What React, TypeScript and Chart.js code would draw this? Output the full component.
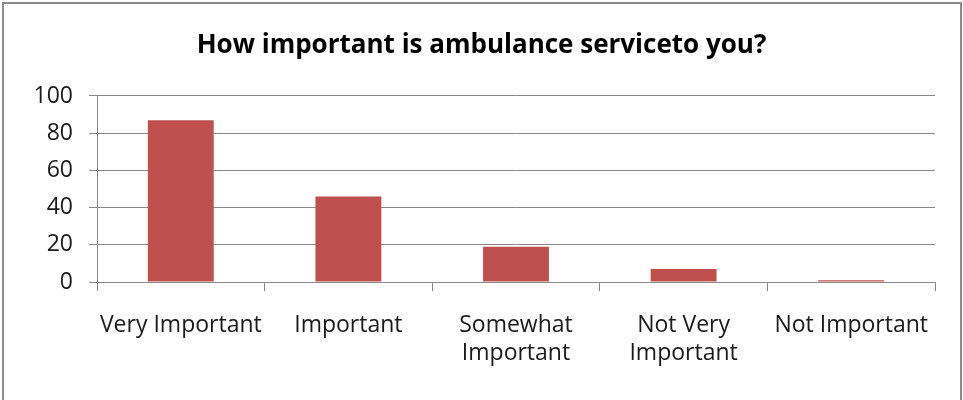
import React, { useEffect, useRef } from "react";
import { Chart, registerables } from "chart.js";

Chart.register(...registerables);

const titleText = "How important is ambulance serviceto you?";
const categories: string[][] = [
  ["Very Important"],
  ["Important"],
  ["Somewhat", "Important"],
  ["Not Very", "Important"],
  ["Not Important"],
];
const values: number[] = [87, 46, 19, 7, 1];
const yMin = 0;
const yMax = 100;
const yStep = 20;

const FONT = "'Open Sans', Lato, sans-serif";
const GRID = "#8a8a8a";

export default function App() {
  const ref = useRef<HTMLCanvasElement | null>(null);

  useEffect(() => {
    document.body.style.margin = "0";
    const canvas = ref.current;
    if (!canvas) return;
    const chart = new Chart(canvas, {
      type: "bar",
      data: {
        labels: categories,
        datasets: [
          {
            data: values,
            backgroundColor: "#C0504D",
            borderWidth: 0,
            categoryPercentage: 1,
            barPercentage: 0.393,
          },
        ],
      },
      options: {
        responsive: false,
        animation: false,
        layout: { padding: 0 },
        plugins: {
          legend: { display: false },
          tooltip: { enabled: false },
          title: {
            display: true,
            text: titleText,
            color: "#000",
            font: { family: FONT, size: 26, weight: "bold", lineHeight: 1.2 },
            padding: { top: 30.4, bottom: 96 - 30.4 - 31.2 },
          },
        },
        scales: {
          x: {
            offset: true,
            grid: {
              display: true,
              drawOnChartArea: false,
              drawTicks: true,
              tickLength: 9,
              color: GRID,
              offset: true,
            },
            border: { display: true, color: GRID },
            ticks: {
              color: "#1a1a1a",
              font: { family: FONT, size: 23, lineHeight: 1.22 },
              padding: 20,
              maxRotation: 0,
              autoSkip: false,
            },
            afterFit: (s: any) => {
              s.height = 400 - 282;
            },
          },
          y: {
            min: yMin,
            max: yMax,
            grid: {
              display: true,
              drawTicks: true,
              tickLength: 8,
              color: GRID,
            },
            border: { display: true, color: GRID },
            ticks: {
              stepSize: yStep,
              color: "#1a1a1a",
              font: { family: FONT, size: 23 },
              padding: 16,
            },
            afterFit: (s: any) => {
              s.width = 97;
            },
          },
          yRight: {
            position: "right",
            display: true,
            grid: { display: false },
            border: { display: false },
            ticks: { display: false },
            afterFit: (s: any) => {
              s.width = 28;
            },
          },
        },
      },
    });
    return () => chart.destroy();
  }, []);

  return (
    <div style={{ position: "relative", width: 963, height: 400, overflow: "hidden", background: "#fff" }}>
      <div
        style={{
          position: "absolute",
          left: 2,
          top: 2,
          width: 960,
          height: 430,
          border: "2px solid #8c8c8c",
          boxSizing: "border-box",
        }}
      />
      <canvas
        ref={ref}
        width={963}
        height={400}
        style={{ position: "absolute", left: 0, top: 0, width: 963, height: 400 }}
      />
    </div>
  );
}
